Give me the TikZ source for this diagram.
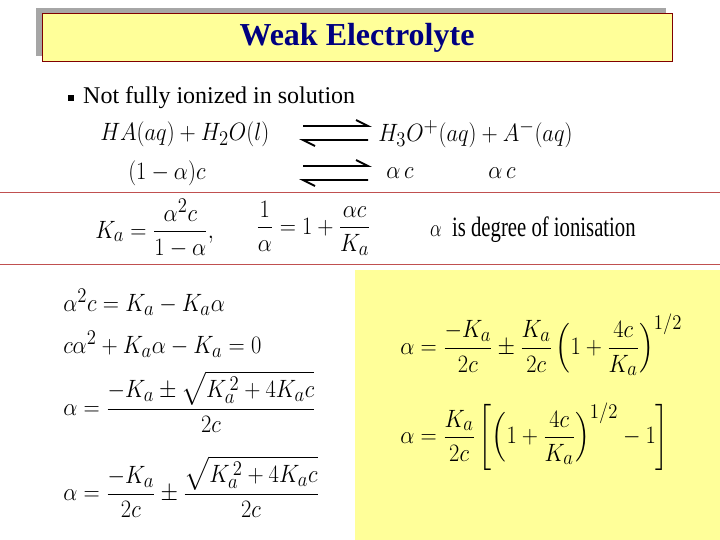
\documentclass[tikz,border=0pt]{standalone}
\usepackage{fontspec}
\setmainfont{Liberation Serif}
\usepackage{amsmath,amssymb}
\definecolor{ltyellow}{RGB}{255,255,153}
\definecolor{darkred}{RGB}{128,0,0}
\definecolor{navy}{RGB}{0,0,128}
\definecolor{rule}{RGB}{192,80,80}
\begin{document}
\begin{tikzpicture}[x=1pt,y=-1pt,
  txt/.style={anchor=west,inner sep=0pt,font=\fontsize{24}{28}\selectfont},
  eq/.style={anchor=west,inner sep=0pt,font=\fontsize{19}{23}\selectfont,xscale=1.3,yscale=1.45},
  eqarrow/.style={line width=1.8pt}]
\useasboundingbox (0,0) rectangle (720,540);
\fill[white] (0,0) rectangle (720,540);
\fill[gray!70] (36,8) rectangle (666,56);
\draw[fill=ltyellow,draw=darkred] (42,13) rectangle (672,61);
\node[font=\fontsize{32}{36}\selectfont\bfseries,text=navy] (title) at (357,38) {Weak Electrolyte};
\draw[rule] (0,192) -- (720,192);
\draw[rule] (0,264) -- (720,264);
\fill[ltyellow] (355,270) rectangle (720,540);
\node[txt] (b) at (68,98) {\raisebox{3pt}{\rule{6pt}{6pt}}\hspace{9pt}Not fully ionized in solution};
\node[eq] (r1) at (100,134) {$HA(aq)+H_2O(l)$};
\node[eq] (p1) at (378,134) {$H_3O^+(aq)+A^-(aq)$};
\node[eq] (r2) at (128,173) {$(1-\alpha)c$};
\node[eq] (p2) at (386,173) {$\alpha\, c$};
\node[eq] (p3) at (488,173) {$\alpha\, c$};
\coordinate (a1) at (303,126); \coordinate (a2) at (368,126);
\coordinate (a3) at (303,140); \coordinate (a4) at (368,140);
\draw[eqarrow] (a1) -- (a2) -- ++(-12,-6);
\draw[eqarrow] (a4) -- (a3) -- ++(12,6);
\coordinate (c1) at (303,166); \coordinate (c2) at (368,166);
\coordinate (c3) at (303,180); \coordinate (c4) at (368,180);
\draw[eqarrow] (c1) -- (c2) -- ++(-12,-6);
\draw[eqarrow] (c4) -- (c3) -- ++(12,6);
\node[eq] (ka) at (95,228) {$K_a=\dfrac{\alpha^2c}{1-\alpha},$};
\node[eq] (inv) at (256,228) {$\dfrac{1}{\alpha}=1+\dfrac{\alpha c}{K_a}$};
\node[txt,font=\fontsize{28}{32}\selectfont] (deg) at (430,230) {\scalebox{0.74}[1]{$\alpha$\ \ is degree of ionisation}};
\node[eq] (l1) at (63,302) {$\alpha^2c=K_a-K_a\alpha$};
\node[eq] (l2) at (63,344) {$c\alpha^2+K_a\alpha-K_a=0$};
\node[eq] (l3) at (63,402) {$\alpha=\dfrac{-K_a\pm\sqrt{K_a^{\,2}+4K_ac}}{2c}$};
\node[eq] (l4) at (63,487) {$\alpha=\dfrac{-K_a}{2c}\pm\dfrac{\sqrt{K_a^{\,2}+4K_ac}}{2c}$};
\node[eq] (r3) at (400,345) {$\alpha=\dfrac{-K_a}{2c}\pm\dfrac{K_a}{2c}\left(1+\dfrac{4c}{K_a}\right)^{1/2}$};
\node[eq] (r4) at (400,437) {$\alpha=\dfrac{K_a}{2c}\left[\left(1+\dfrac{4c}{K_a}\right)^{1/2}-1\right]$};
\end{tikzpicture}
\end{document}
